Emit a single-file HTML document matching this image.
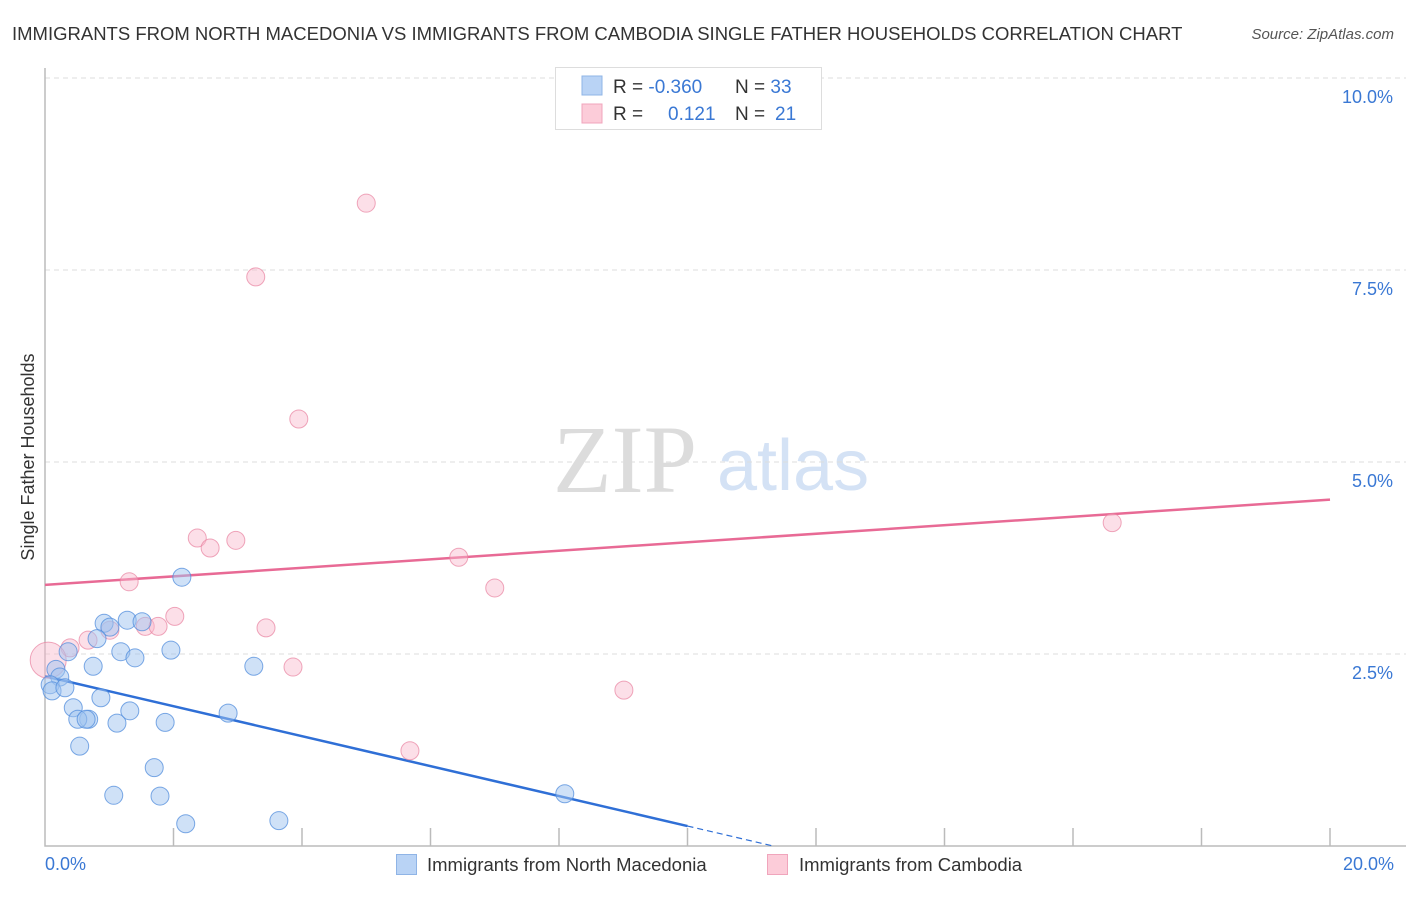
<!DOCTYPE html>
<html><head><meta charset="utf-8"><style>
body{margin:0;background:#fff;width:1406px;height:892px;overflow:hidden;font-family:"Liberation Sans",sans-serif}
</style></head><body>
<svg id="c" width="1406" height="892" xmlns="http://www.w3.org/2000/svg">
<text x="12" y="40" font-size="18.5" fill="#333">IMMIGRANTS FROM NORTH MACEDONIA VS IMMIGRANTS FROM CAMBODIA SINGLE FATHER HOUSEHOLDS CORRELATION CHART</text>
<text x="1394" y="39" font-size="15" font-style="italic" fill="#555" text-anchor="end">Source: ZipAtlas.com</text>
<g>
<text x="553" y="492" font-family="Liberation Serif,serif" font-size="96" fill="#dcdcdc">ZIP</text>
<text x="717" y="490" font-size="72" fill="#d4e2f5">atlas</text>
</g>
<text transform="translate(34,457) rotate(-90)" font-size="18" fill="#333" text-anchor="middle">Single Father Households</text>
<g id="grid"></g><g id="ticks"></g><g id="lines"></g><g id="pts"></g>
<g>
<rect x="555.5" y="67.5" width="266" height="62" fill="#fff" stroke="#ddd"/>
<rect x="582" y="76" width="20" height="19" fill="#b9d3f5" stroke="#8fb4e6"/>
<rect x="582" y="104" width="20" height="19" fill="#fcccd9" stroke="#f0a5bc"/>
<text x="613" y="93" font-size="19" fill="#333">R = <tspan fill="#3a78d4">-0.360</tspan><tspan x="735">N = </tspan><tspan fill="#3a78d4">33</tspan></text>
<text x="613" y="120" font-size="19" fill="#333">R = <tspan x="668" fill="#3a78d4">0.121</tspan><tspan x="735">N = </tspan><tspan x="775" fill="#3a78d4">21</tspan></text>
</g>
<g>
<rect x="396.5" y="854.5" width="20" height="20" fill="#b9d3f5" stroke="#8fb4e6"/>
<text x="427" y="871" font-size="18.5" fill="#333">Immigrants from North Macedonia</text>
<rect x="767.5" y="854.5" width="20" height="20" fill="#fcccd9" stroke="#f0a5bc"/>
<text x="799" y="871" font-size="18.5" fill="#333">Immigrants from Cambodia</text>
</g>
</svg>
<script>
const blueX=[2.13,0.92,1.28,1.51,1.01,0.81,1.18,1.40,1.96,3.25,0.75,0.36,0.17,0.23,0.08,0.11,0.31,0.87,0.44,0.68,0.51,0.64,1.12,1.32,1.87,2.85,0.54,1.70,1.07,1.79,2.19,3.64,8.09];
const blueY=[3.50,2.90,2.94,2.92,2.85,2.70,2.53,2.45,2.55,2.34,2.34,2.53,2.30,2.20,2.10,2.02,2.06,1.93,1.80,1.65,1.65,1.65,1.60,1.76,1.61,1.73,1.30,1.02,0.66,0.65,0.29,0.33,0.68];
const pinkX=[5.00,3.28,3.95,2.37,2.97,2.57,1.31,6.44,7.00,2.02,1.56,1.76,1.01,0.67,0.39,3.44,3.86,9.01,5.68,16.61,0.05];
const pinkY=[8.37,7.41,5.56,4.01,3.98,3.88,3.44,3.76,3.36,2.99,2.86,2.86,2.81,2.68,2.58,2.84,2.33,2.03,1.24,4.21,2.42];
const yTicks=[2.5,5.0,7.5,10.0];
const xTickLabels=["0.0%","20.0%"];
const blueTrend=[2.21,-0.195];
const pinkTrend=[3.40,0.0555];
const NS="http://www.w3.org/2000/svg";
const X=v=>45+v/20*1285, Y=v=>846-v*76.8;
function mk(p,t,a){const e=document.createElementNS(NS,t);for(const k in a)e.setAttribute(k,a[k]);document.getElementById(p).appendChild(e);return e;}
yTicks.forEach(t=>{
 const l=mk('grid','line',{x1:45,x2:1420,y1:Y(t),y2:Y(t),stroke:'#ddd','stroke-dasharray':'5,4'});
 
 
 const tx=mk('grid','text',{x:1393,y:Y(t)+25,'font-size':18,fill:'#3a78d4','text-anchor':'end'});
 tx.textContent=t.toFixed(1)+'%';
 
 
});
const ax=mk('ticks','path',{d:'M45,68V846H1406',stroke:'#bbb',fill:'none','stroke-width':1.5});


for(let i=1;i<=10;i++){
 const t=mk('ticks','line',{x1:X(i*2),x2:X(i*2),y1:828,y2:846,stroke:'#bbb','stroke-width':1.5});
 
 
}
xTickLabels.forEach((s,i)=>{
 const t=mk('ticks','text',{x:i?1394:45,y:870,'font-size':18,fill:'#3a78d4','text-anchor':i?'end':'start'});
 t.textContent=s;
 
 
});
const z=-blueTrend[0]/blueTrend[1];
const b1=mk('lines','line',{x1:X(0),y1:Y(blueTrend[0]),x2:X(10),y2:Y(blueTrend[0]+blueTrend[1]*10),stroke:'#2f6fd6','stroke-width':2.5});


const b2=mk('lines','line',{x1:X(10),y1:Y(blueTrend[0]+blueTrend[1]*10),x2:X(z),y2:Y(0),stroke:'#2f6fd6','stroke-width':1.2,'stroke-dasharray':'6,4'});


const p1=mk('lines','line',{x1:X(0),y1:Y(pinkTrend[0]),x2:X(20),y2:Y(pinkTrend[0]+pinkTrend[1]*20),stroke:'#e86a95','stroke-width':2.5});


pinkX.forEach((x,i)=>{
 const c=mk('pts','circle',{cx:X(x),cy:Y(pinkY[i]),r:i==20?18:9,fill:'rgba(248,185,205,0.45)',stroke:'rgba(232,130,160,0.7)','stroke-width':1});
 
 
});
blueX.forEach((x,i)=>{
 const c=mk('pts','circle',{cx:X(x),cy:Y(blueY[i]),r:9,fill:'rgba(160,196,240,0.5)',stroke:'rgba(80,140,220,0.75)','stroke-width':1});
 
 
});
</script>
</body></html>
